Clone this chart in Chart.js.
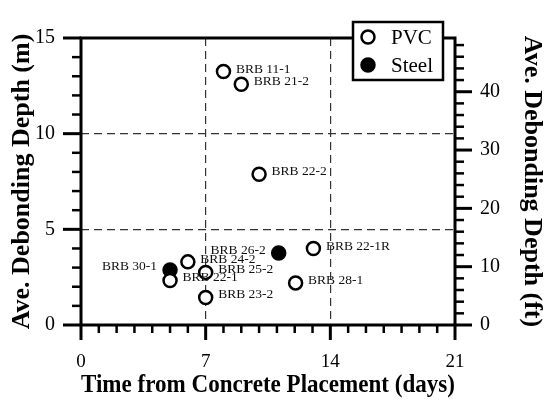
<!DOCTYPE html>
<html>
<head>
<meta charset="utf-8">
<title>Ave. Debonding Depth vs Time</title>
<script src="https://cdn.jsdelivr.net/npm/chart.js@4"></script>
<style>
  body { margin: 0; background: #fff; }
  #wrap { width: 545px; height: 402px; }
</style>
</head>
<body>
<div id="wrap"><canvas id="chart" width="545" height="402"></canvas></div>
<script>
// Data
const pvcNames = ['BRB 11-1', 'BRB 21-2', 'BRB 22-2', 'BRB 22-1R', 'BRB 24-2', 'BRB 22-1', 'BRB 25-2', 'BRB 23-2', 'BRB 28-1'];
const pvcDays = [8.0, 9.0, 10.0, 13.05, 6.0, 5.0, 7.0, 7.0, 12.05];
const pvcDepth = [13.25, 12.58, 7.88, 4.0, 3.3, 2.33, 2.75, 1.44, 2.2];

const steelNames = ['BRB 30-1', 'BRB 26-2'];
const steelDays = [5.0, 11.1];
const steelDepth = [2.88, 3.76];

const dayTicks = [0, 7, 14, 21];
const meterTicks = [0, 5, 10, 15];
const feetTicks = [0, 10, 20, 30, 40];

const FT_PER_M = 1 / 0.3048;
const leftLabelled = ['BRB 30-1', 'BRB 26-2'];
const SERIF = '"Liberation Serif", "Times New Roman", serif';

function toPoints(xs, ys) {
  return xs.map((x, i) => ({ x: x, y: ys[i] }));
}

function line(ctx, x1, y1, x2, y2) {
  ctx.beginPath();
  ctx.moveTo(x1, y1);
  ctx.lineTo(x2, y2);
  ctx.stroke();
}

// Axis frame plus the major/minor tick marks
const axisFrame = {
  id: 'axisFrame',
  afterDraw(chart) {
    const { ctx, chartArea: a } = chart;
    const { x, y, y2 } = chart.scales;
    ctx.save();
    ctx.strokeStyle = '#000';
    ctx.lineCap = 'butt';

    for (let d = 0; d <= 21; d++) {
      const px = x.getPixelForValue(d);
      const major = d % 7 === 0;
      ctx.lineWidth = major ? 3 : 2.5;
      line(ctx, px, a.bottom, px, a.bottom + (major ? 15 : 8));
    }
    for (let m = 0; m <= 15; m++) {
      const py = y.getPixelForValue(m);
      const major = m % 5 === 0;
      ctx.lineWidth = major ? 3 : 2.5;
      line(ctx, a.left, py, a.left - (major ? 18 : 9), py);
    }
    for (let f = 0; f <= 48; f += 2) {
      const py = y2.getPixelForValue(f);
      const major = f % 10 === 0;
      ctx.lineWidth = major ? 3 : 2.5;
      line(ctx, a.right, py, a.right + (major ? 17 : 9), py);
    }

    ctx.lineWidth = 3;
    ctx.strokeRect(a.left, a.top, a.right - a.left, a.bottom - a.top);
    ctx.restore();
  }
};

// Name next to each marker
const pointNames = {
  id: 'pointNames',
  afterDatasetsDraw(chart) {
    const { ctx } = chart;
    ctx.save();
    ctx.font = '13.5px ' + SERIF;
    ctx.fillStyle = '#111';
    ctx.textBaseline = 'middle';
    chart.data.datasets.forEach((ds, di) => {
      const meta = chart.getDatasetMeta(di);
      meta.data.forEach((pt, i) => {
        const name = ds.names[i];
        if (leftLabelled.includes(name)) {
          ctx.textAlign = 'right';
          ctx.fillText(name, pt.x - 13, pt.y - 3);
        } else {
          ctx.textAlign = 'left';
          ctx.fillText(name, pt.x + 12.5, pt.y - 2.5);
        }
      });
    });
    ctx.restore();
  }
};

// Boxed legend inside the plot, top right
const boxLegend = {
  id: 'boxLegend',
  afterDraw(chart) {
    const { ctx } = chart;
    ctx.save();
    ctx.fillStyle = '#fff';
    ctx.fillRect(353, 22, 90, 58);
    ctx.strokeStyle = '#000';
    ctx.lineWidth = 2.5;
    ctx.strokeRect(353, 22, 90, 58);
    ctx.font = '21px ' + SERIF;
    ctx.textBaseline = 'middle';
    ctx.textAlign = 'left';
    chart.data.datasets.forEach((ds, i) => {
      const cy = 37 + i * 28;
      ctx.beginPath();
      ctx.arc(368, cy, 6.5, 0, Math.PI * 2);
      ctx.fillStyle = ds.backgroundColor;
      ctx.fill();
      ctx.lineWidth = 2.5;
      ctx.strokeStyle = ds.borderColor;
      ctx.stroke();
      ctx.fillStyle = '#000';
      ctx.fillText(ds.label, 391, cy + 1);
    });
    ctx.restore();
  }
};

const gridColor = (values) => (c) =>
  (c.tick && values.includes(c.tick.value)) ? '#333' : 'rgba(0,0,0,0)';

new Chart(document.getElementById('chart'), {
  type: 'scatter',
  data: {
    datasets: [
      {
        label: 'PVC',
        names: pvcNames,
        data: toPoints(pvcDays, pvcDepth),
        backgroundColor: '#fff',
        borderColor: '#000',
        borderWidth: 2.5,
        pointRadius: 6.5,
        yAxisID: 'y'
      },
      {
        label: 'Steel',
        names: steelNames,
        data: toPoints(steelDays, steelDepth),
        backgroundColor: '#000',
        borderColor: '#000',
        borderWidth: 2.5,
        pointRadius: 6.5,
        yAxisID: 'y'
      }
    ]
  },
  options: {
    responsive: false,
    animation: false,
    devicePixelRatio: 1,
    layout: { padding: { top: 14, left: 0, right: 0, bottom: 0 } },
    plugins: {
      legend: { display: false },
      tooltip: { enabled: false }
    },
    scales: {
      x: {
        type: 'linear',
        min: 0,
        max: 21,
        afterBuildTicks: (s) => { s.ticks = dayTicks.map(v => ({ value: v })); },
        afterFit: (s) => { s.height = 77; },
        grid: { color: gridColor([7, 14]), lineWidth: 1.2, drawTicks: false },
        border: { display: false, dash: [8, 5] },
        ticks: { color: '#000', padding: 26, font: { family: SERIF, size: 19 } },
        title: {
          display: true,
          text: 'Time from Concrete Placement (days)',
          color: '#000',
          font: { family: SERIF, size: 26, weight: 'bold', lineHeight: 1 },
          padding: { top: 0, bottom: 4 }
        }
      },
      y: {
        type: 'linear',
        position: 'left',
        min: 0,
        max: 15,
        afterBuildTicks: (s) => { s.ticks = meterTicks.map(v => ({ value: v })); },
        afterFit: (s) => { s.width = 81; },
        grid: { color: gridColor([5, 10]), lineWidth: 1.2, drawTicks: false },
        border: { display: false, dash: [8, 5] },
        ticks: { color: '#000', padding: 26, font: { family: SERIF, size: 20 } },
        title: {
          display: true,
          text: 'Ave. Debonding Depth (m)',
          color: '#000',
          font: { family: SERIF, size: 26, weight: 'bold', lineHeight: 1 },
          padding: { top: 9, bottom: 0 }
        }
      },
      y2: {
        type: 'linear',
        position: 'right',
        min: 0,
        max: 15 * FT_PER_M,
        afterBuildTicks: (s) => { s.ticks = feetTicks.map(v => ({ value: v })); },
        afterFit: (s) => { s.width = 90; },
        grid: { display: false, drawTicks: false },
        border: { display: false },
        ticks: { color: '#000', padding: 25, font: { family: SERIF, size: 20 } },
        title: {
          display: true,
          text: 'Ave. Debonding Depth (ft)',
          color: '#000',
          font: { family: SERIF, size: 26, weight: 'bold', lineHeight: 1 },
          padding: { top: 0, bottom: 0 }
        }
      }
    }
  },
  plugins: [axisFrame, pointNames, boxLegend]
});
</script>
</body>
</html>
